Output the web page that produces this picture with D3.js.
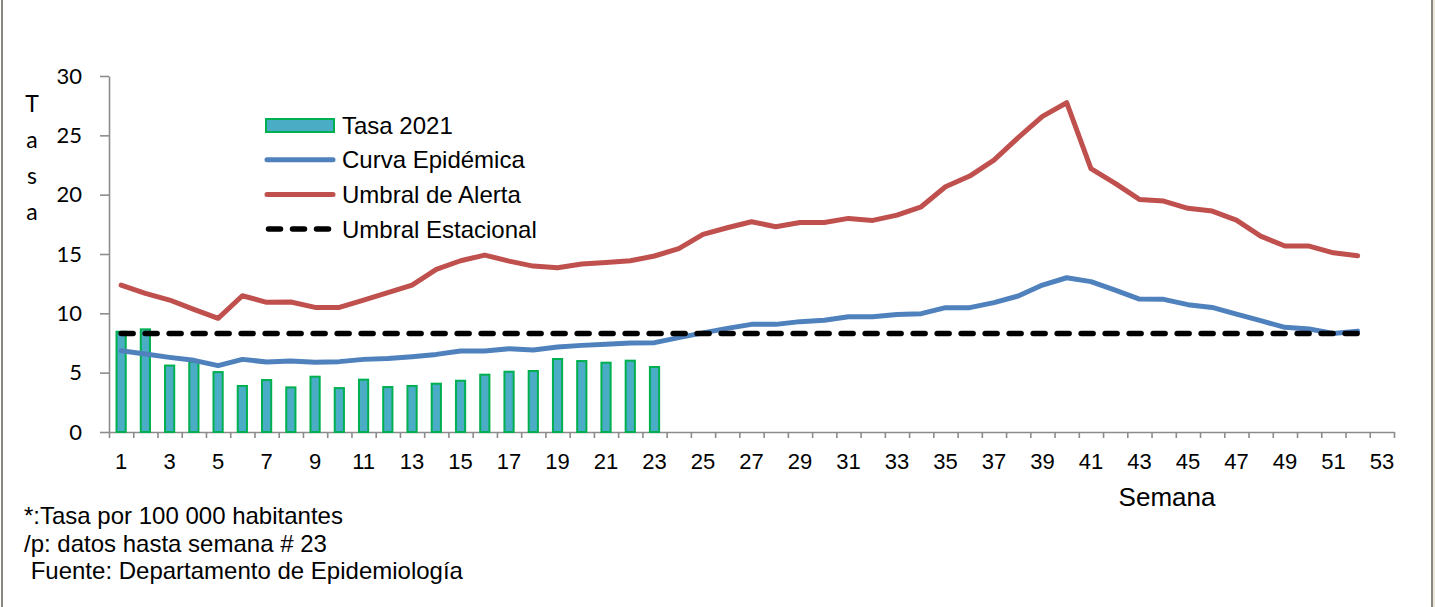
<!DOCTYPE html>
<html>
<head>
<meta charset="utf-8">
<script src="https://cdn.jsdelivr.net/npm/d3@7"></script>
<style>
  html, body { margin: 0; padding: 0; background: #fff; }
  svg { display: block; }
  .ax path, .ax line { stroke: #8c8c8c; stroke-width: 1.6; }
</style>
</head>
<body>
<div id="chart"></div>
<script>
// semanas epidemiologicas
const semanas = [1, 2, 3, 4, 5, 6, 7, 8, 9, 10, 11, 12, 13, 14, 15, 16, 17, 18, 19, 20,
  21, 22, 23, 24, 25, 26, 27, 28, 29, 30, 31, 32, 33, 34, 35, 36, 37, 38, 39, 40,
  41, 42, 43, 44, 45, 46, 47, 48, 49, 50, 51, 52, 53]

// Tasa 2021 (hasta semana 23)
const tasa2021 = [8.45, 8.65, 5.6, 5.9, 5.05, 3.88, 4.38, 3.76, 4.66, 3.7,
  4.41, 3.79, 3.88, 4.07, 4.32, 4.83, 5.08, 5.14, 6.15, 5.98,
  5.84, 6.01, 5.48]

const curvaEpidemica = [6.85, 6.57, 6.29, 6.04, 5.59, 6.12, 5.9, 5.98, 5.87, 5.93,
  6.12, 6.2, 6.35, 6.54, 6.82, 6.82, 7.02, 6.91, 7.16, 7.3,
  7.39, 7.5, 7.53, 7.95, 8.35, 8.73, 9.07, 9.07, 9.3, 9.41,
  9.72, 9.72, 9.91, 9.97, 10.48, 10.48, 10.9, 11.46, 12.38, 13.0,
  12.67, 11.96, 11.2, 11.18, 10.73, 10.5, 9.94, 9.38, 8.82, 8.68,
  8.31, 8.5]

const umbralAlerta = [12.38, 11.68, 11.12, 10.33, 9.58, 11.48, 10.93, 10.95, 10.5, 10.5,
  11.12, 11.74, 12.38, 13.7, 14.43, 14.91, 14.4, 13.98, 13.84, 14.15,
  14.29, 14.43, 14.83, 15.45, 16.65, 17.21, 17.72, 17.3, 17.66, 17.66,
  18.0, 17.83, 18.28, 18.98, 20.67, 21.57, 22.91, 24.8, 26.6, 27.75,
  22.2, 20.95, 19.6, 19.46, 18.85, 18.62, 17.86, 16.51, 15.67, 15.67,
  15.1, 14.85]

const umbralEstacional = [8.3, 8.3, 8.3, 8.3, 8.3, 8.3, 8.3, 8.3, 8.3, 8.3,
  8.3, 8.3, 8.3, 8.3, 8.3, 8.3, 8.3, 8.3, 8.3, 8.3,
  8.3, 8.3, 8.3, 8.3, 8.3, 8.3, 8.3, 8.3, 8.3, 8.3,
  8.3, 8.3, 8.3, 8.3, 8.3, 8.3, 8.3, 8.3, 8.3, 8.3,
  8.3, 8.3, 8.3, 8.3, 8.3, 8.3, 8.3, 8.3, 8.3, 8.3,
  8.3, 8.3]

const yTicks = [0, 5, 10, 15, 20, 25, 30]
const xLabels = [1, 3, 5, 7, 9, 11, 13, 15, 17, 19, 21, 23, 25, 27,
  29, 31, 33, 35, 37, 39, 41, 43, 45, 47, 49, 51, 53]

const legendItems = ['Tasa 2021', 'Curva Epidémica', 'Umbral de Alerta', 'Umbral Estacional']
const notas = ['*:Tasa por 100 000 habitantes', '/p: datos hasta semana # 23', ' Fuente: Departamento de Epidemiología']

const W = 1435, H = 607
const plot = { left: 109, right: 1394, top: 76, bottom: 432 }
const colors = { bar: '#4bacc6', barStroke: '#00b050', curva: '#4f81bd', alerta: '#c0504d', estacional: '#000' }
const arial = 'Arial, "Liberation Sans", sans-serif'
const calibri = 'Lato, "Open Sans", sans-serif'

const svg = d3.select('#chart').append('svg')
  .attr('width', W)
  .attr('height', H)

svg.append('rect').attr('width', W).attr('height', H).attr('fill', '#fff')

// marco
svg.append('line').attr('x1', 2).attr('x2', 2).attr('y1', 0).attr('y2', H)
  .attr('stroke', '#8a8680').attr('stroke-width', 2)
svg.append('line').attr('x1', 1432).attr('x2', 1432).attr('y1', 0).attr('y2', H)
  .attr('stroke', '#8a8680').attr('stroke-width', 2)
svg.append('rect').attr('x', 1433).attr('y', 0).attr('width', 2).attr('height', H)
  .attr('fill', '#ece9d8')

// scales
const x = d3.scaleBand()
  .domain(semanas)
  .range([plot.left, plot.right])
  .padding(0)

const xEdge = d3.scaleLinear()
  .domain([0.5, 53.5])
  .range([plot.left, plot.right])

const y = d3.scaleLinear()
  .domain([0, 30])
  .range([plot.bottom, plot.top])

const cx = d => x(d) + x.bandwidth() / 2

// y-axis
const yAxis = svg.append('g')
  .attr('class', 'ax')
  .attr('transform', `translate(${plot.left},0)`)
  .call(d3.axisLeft(y).tickValues(yTicks).tickSize(9).tickSizeOuter(0).tickPadding(18))
yAxis.selectAll('text')
  .attr('font-family', calibri)
  .attr('font-size', 22)
  .attr('fill', '#000')

// x-axis: category boundaries
svg.append('g')
  .attr('class', 'ax')
  .attr('transform', `translate(0,${plot.bottom})`)
  .call(d3.axisBottom(xEdge).tickValues(d3.range(0.5, 54, 1)).tickSize(6).tickSizeOuter(0).tickFormat(''))

// x-axis labels
const xAxis = svg.append('g')
  .attr('transform', `translate(0,${plot.bottom})`)
  .call(d3.axisBottom(x).tickValues(xLabels).tickSize(0).tickPadding(21))
xAxis.select('.domain').remove()
xAxis.selectAll('text')
  .attr('font-family', arial)
  .attr('font-size', 22)
  .attr('fill', '#000')

// bars
const barW = x.bandwidth() * 0.38
svg.append('g')
  .selectAll('rect')
  .data(tasa2021)
  .join('rect')
  .attr('x', (d, i) => cx(semanas[i]) - barW / 2)
  .attr('y', d => y(d))
  .attr('width', barW)
  .attr('height', d => y(0) - y(d))
  .attr('fill', colors.bar)
  .attr('stroke', colors.barStroke)
  .attr('stroke-width', 2)

const line = d3.line()
  .x((d, i) => cx(semanas[i]))
  .y(d => y(d))

svg.append('path')
  .datum(umbralAlerta)
  .attr('d', line)
  .attr('fill', 'none')
  .attr('stroke', colors.alerta)
  .attr('stroke-width', 5)
  .attr('stroke-linejoin', 'round')
  .attr('stroke-linecap', 'round')

svg.append('path')
  .datum(curvaEpidemica)
  .attr('d', line)
  .attr('fill', 'none')
  .attr('stroke', colors.curva)
  .attr('stroke-width', 5)
  .attr('stroke-linejoin', 'round')
  .attr('stroke-linecap', 'round')

svg.append('path')
  .datum(umbralEstacional)
  .attr('d', line)
  .attr('fill', 'none')
  .attr('stroke', colors.estacional)
  .attr('stroke-width', 5.5)
  .attr('stroke-dasharray', '12,12')
  .attr('stroke-linecap', 'round')

// y title, letras apiladas
svg.append('g')
  .selectAll('text')
  .data(['T', 'a', 's', 'a'])
  .join('text')
  .attr('x', 32)
  .attr('y', (d, i) => 112 + i * 36)
  .attr('text-anchor', 'middle')
  .attr('font-family', calibri)
  .attr('font-size', 23)
  .text(d => d)

svg.append('text')
  .attr('x', 1167)
  .attr('y', 506)
  .attr('text-anchor', 'middle')
  .attr('font-family', arial)
  .attr('font-size', 26)
  .text('Semana')

// legend
const legend = svg.append('g').attr('transform', 'translate(266,125)')
const rows = legend.selectAll('g')
  .data(legendItems)
  .join('g')
  .attr('transform', (d, i) => `translate(0,${i * 34.7})`)

rows.filter((d, i) => i === 0).append('rect')
  .attr('x', 0).attr('y', -6).attr('width', 68).attr('height', 13)
  .attr('fill', colors.bar).attr('stroke', colors.barStroke).attr('stroke-width', 2)
rows.filter((d, i) => i === 1).append('line')
  .attr('x1', 1).attr('x2', 67)
  .attr('stroke', colors.curva).attr('stroke-width', 5).attr('stroke-linecap', 'round')
rows.filter((d, i) => i === 2).append('line')
  .attr('x1', 1).attr('x2', 67)
  .attr('stroke', colors.alerta).attr('stroke-width', 5).attr('stroke-linecap', 'round')
rows.filter((d, i) => i === 3).append('line')
  .attr('x1', 2.5).attr('x2', 66)
  .attr('stroke', colors.estacional).attr('stroke-width', 5.5)
  .attr('stroke-dasharray', '12,12').attr('stroke-linecap', 'round')

rows.append('text')
  .attr('x', 76)
  .attr('y', 8.5)
  .attr('font-family', arial)
  .attr('font-size', 24)
  .text(d => d)

// notas
svg.append('g')
  .selectAll('text')
  .data(notas)
  .join('text')
  .attr('x', 24)
  .attr('y', (d, i) => 524 + i * 27.5)
  .attr('font-family', arial)
  .attr('font-size', 24)
  .style('white-space', 'pre')
  .text(d => d)
</script>
</body>
</html>
